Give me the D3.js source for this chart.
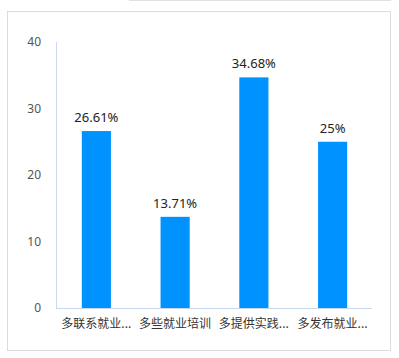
<!DOCTYPE html>
<html><head><meta charset="utf-8">
<script src="https://cdn.jsdelivr.net/npm/d3@7"></script>
<style>html,body{margin:0;padding:0;background:#fff;}svg{display:block;}</style>
</head><body>
<script>
const categories = ["多联系就业...", "多些就业培训", "多提供实践...", "多发布就业..."];
const values = [26.61, 13.71, 34.68, 25];
const valueLabels = ["26.61%", "13.71%", "34.68%", "25%"];
const yTicks = [0, 10, 20, 30, 40];

const W = 399, H = 358;
const svg = d3.select("body").append("svg").attr("width", W).attr("height", H);
const font = "'Noto Sans CJK SC', 'Microsoft YaHei', sans-serif";
const numFont = "'Noto Sans', 'Segoe UI', sans-serif";

// top strip line
svg.append("line").attr("x1", 129).attr("x2", 391).attr("y1", 0.5).attr("y2", 0.5)
  .attr("stroke", "#e2e2e2").attr("stroke-width", 1);
// outer border
svg.append("rect").attr("x", 7.5).attr("y", 11.5).attr("width", 383).attr("height", 339)
  .attr("fill", "#fff").attr("stroke", "#dcdcdc");

const x0 = 57, x1 = 372, yTop = 42, yBot = 308;
const x = d3.scaleBand().domain(categories).range([x0, x1]).paddingInner(0.63).paddingOuter(0.315);
const y = d3.scaleLinear().domain([0, 40]).range([yBot, yTop]);

// axes lines
svg.append("line").attr("x1", x0 - 0.5).attr("x2", x0 - 0.5).attr("y1", yTop).attr("y2", yBot)
  .attr("stroke", "#c9daf0");
svg.append("line").attr("x1", x0 - 1).attr("x2", x1).attr("y1", yBot + 0.5).attr("y2", yBot + 0.5)
  .attr("stroke", "#c9daf0");

// y tick labels
const yAxis = d3.axisLeft(y).tickValues(yTicks).tickSize(0).tickPadding(0);
const ga = svg.append("g").attr("transform", `translate(${41},0)`).call(yAxis);
ga.select(".domain").remove();
ga.selectAll("text").attr("font-family", numFont).attr("font-size", 12).attr("fill", "#555");

// bars
svg.selectAll("rect.bar").data(values).enter().append("rect").attr("class", "bar")
  .attr("x", (d, i) => x(categories[i]))
  .attr("width", x.bandwidth())
  .attr("y", d => y(d))
  .attr("height", d => yBot - y(d))
  .attr("fill", "#0093ff");

// value labels
svg.selectAll("text.vl").data(values).enter().append("text").attr("class", "vl")
  .attr("x", (d, i) => x(categories[i]) + x.bandwidth() / 2)
  .attr("y", d => y(d) - 9)
  .attr("text-anchor", "middle")
  .attr("font-family", numFont).attr("font-size", 13).attr("fill", "#222")
  .text((d, i) => valueLabels[i]);

// category labels
svg.selectAll("text.cl").data(categories).enter().append("text").attr("class", "cl")
  .attr("x", d => x(d) + x.bandwidth() / 2)
  .attr("y", 328)
  .attr("text-anchor", "middle")
  .attr("font-family", font).attr("font-size", 12).attr("fill", "#333")
  .text(d => d);
</script>
</body></html>
